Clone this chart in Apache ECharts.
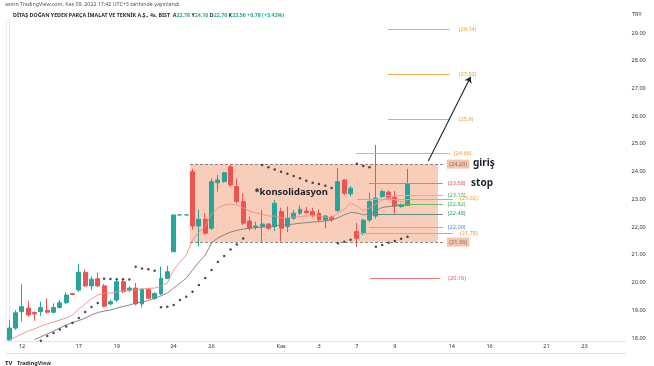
<!DOCTYPE html>
<html><head><meta charset="utf-8">
<script src="https://cdn.jsdelivr.net/npm/echarts@6/dist/echarts.min.js"></script>
<style>html,body{margin:0;padding:0;background:#fff}#c{width:654px;height:366px}</style>
</head><body><div id="c"></div>
<script>
// ---- DATA ----
const dayList = [
  ['11 Eki', 2, ''], ['12 Eki', 3, '12'], ['13 Eki', 3, ''], ['14 Eki', 3, ''],
  ['17 Eki', 3, '17'], ['18 Eki', 3, ''], ['19 Eki', 3, '19'], ['20 Eki', 3, ''], ['21 Eki', 3, ''],
  ['24 Eki', 3, '24'], ['25 Eki', 3, ''], ['26 Eki', 3, '26'], ['27 Eki', 3, ''], ['28 Eki', 2, ''], ['31 Eki', 3, ''],
  ['1 Kas', 3, 'Kas'], ['2 Kas', 3, ''], ['3 Kas', 3, '3'], ['4 Kas', 3, ''], ['7 Kas', 3, '7'], ['8 Kas', 3, ''], ['9 Kas', 3, '9'],
  ['10 Kas', 3, ''], ['11 Kas', 3, ''], ['14 Kas', 3, '14'], ['15 Kas', 3, ''], ['16 Kas', 3, '16'], ['17 Kas', 3, ''], ['18 Kas', 3, ''],
  ['21 Kas', 3, '21'], ['22 Kas', 3, ''], ['23 Kas', 3, '23'], ['24 Kas', 3, ''], ['25 Kas', 1, '']
];
// [open, close, low, high]
const candles = [
  [17.93,18.36,17.90,18.65],[18.36,18.91,18.30,19.00],[18.95,19.13,18.60,19.94],[19.08,18.83,18.77,19.34],
  [18.92,18.87,18.62,18.96],[18.95,19.10,18.80,19.31],[19.00,18.93,18.88,19.43],[18.93,19.10,18.90,19.25],
  [19.10,19.27,19.06,19.37],[19.27,19.55,19.23,19.65],[19.60,19.57,19.54,19.63],[19.73,20.37,19.67,20.67],
  [20.37,19.88,19.84,20.48],[19.88,20.12,19.74,20.22],[20.14,19.88,19.84,20.36],[19.88,19.15,19.10,19.95],
  [19.23,19.31,19.18,19.38],[19.37,20.03,19.30,20.10],[20.03,19.67,19.62,20.12],[19.72,19.80,19.66,19.86],
  [19.80,19.23,19.18,19.98],[19.23,19.76,19.10,19.80],[19.76,19.43,19.40,19.80],[19.43,19.61,19.38,19.65],
  [19.59,20.15,19.55,20.58],[20.15,20.39,20.12,20.60],[21.11,22.44,21.10,22.44],[22.44,22.44,22.44,22.44],
  [22.44,22.44,22.44,22.44],[24.00,22.04,21.90,24.10],[22.04,22.28,21.30,22.64],[22.28,21.78,21.72,22.50],
  [21.96,23.64,21.90,23.76],[23.60,23.70,23.28,23.88],[23.64,23.96,23.60,23.98],[24.18,23.52,23.45,24.25],
  [23.46,22.92,22.86,23.76],[22.92,22.14,22.08,23.22],[22.22,21.96,21.88,22.38],[22.00,22.04,21.90,22.20],
  [22.02,22.11,21.47,22.62],[22.11,21.96,21.90,22.15],[22.02,22.86,21.85,22.98],[22.56,21.96,21.47,22.70],
  [22.02,22.32,21.82,22.74],[22.32,22.50,22.26,22.62],[22.50,22.64,22.44,22.78],[22.58,22.52,22.48,22.72],
  [22.56,22.44,22.36,22.70],[22.50,22.26,22.20,22.64],[22.26,22.40,21.95,22.44],[22.36,22.26,22.20,22.40],
  [22.60,23.64,22.55,24.12],[23.70,23.22,23.15,23.72],[23.20,23.40,23.10,23.48],[21.84,21.60,21.28,22.15],
  [21.80,22.25,21.70,22.30],[22.26,22.92,22.18,23.24],[22.40,23.04,22.30,24.96],[23.10,23.28,23.05,23.35],
  [23.26,23.08,23.02,23.32],[23.08,22.76,22.47,23.30],[22.74,22.78,22.70,22.85],[22.78,23.56,22.76,24.10]
];
const maFast = [17.93,18.04,18.15,18.25,18.33,18.43,18.51,18.58,18.65,18.72,18.83,19.05,19.23,19.41,19.55,19.61,19.62,19.66,19.70,19.73,
  19.73,19.77,19.79,19.80,19.88,19.98,20.45,20.74,20.99,21.54,21.82,22.04,22.47,22.69,22.80,22.83,22.80,22.69,22.58,22.51,
  22.47,22.40,22.40,22.33,22.33,22.36,22.38,22.40,22.42,22.40,22.36,22.33,22.51,22.65,22.87,22.76,22.58,22.69,22.83,22.98,
  23.05,22.98,22.91,22.94];
const maSlow = ['-','-','-','-',17.95,18.04,18.15,18.25,18.36,18.47,18.56,18.63,18.72,18.83,18.92,18.97,19.01,19.08,19.14,19.19,
  19.26,19.30,19.35,19.43,19.52,19.62,19.80,19.98,20.16,20.45,20.74,20.99,21.43,21.61,21.72,21.82,21.88,21.93,21.96,21.98,
  22.00,22.01,22.04,22.08,22.09,22.11,22.14,22.16,22.18,22.20,22.22,22.26,22.33,22.44,22.53,22.51,22.44,22.49,22.58,22.71,
  22.74,22.76,22.78,22.80];
const sar = ['-','-','-','-','-',17.90,18.07,18.18,18.31,18.42,18.54,18.72,18.94,19.12,19.26,20.14,20.13,20.12,20.12,20.11,
  20.57,20.51,20.48,20.43,19.11,19.13,19.19,19.37,19.49,19.67,19.91,20.16,20.45,20.74,20.96,21.19,21.37,21.59,'-','-',
  24.24,24.16,24.08,24.00,23.92,23.84,23.76,23.67,23.60,23.55,23.49,23.41,21.42,21.47,21.54,24.28,24.20,24.16,21.29,21.35,
  21.44,21.50,21.58,21.65];
const lastPrice = 23.56;
const fibLevels = [29.14, 27.52, 25.9, 24.66, 23.58, 23.15, 23.02, 22.82, 22.48, 22.00, 21.78, 20.16];
const fibTexts = ['(29.14)','(27.52)','(25.9)','(24.66)','(23.58)','(23.15)','(23.02)','(22.82)','(22.48)','(22.00)','(21.78)','(20.16)'];
const boxLevels = [24.27, 21.46];
const boxTexts = ['(24.20)', '(21.36)'];
const notes = ['giriş', 'stop', '*konsolidasyon'];
const yTicks = [18,19,20,21,22,23,24,25,26,27,28,29];

// ---- BUILD ----
const categories = [], tickText = [];
dayList.forEach(d => { for (let k = 0; k < d[1]; k++) { categories.push(d[0] + ' #' + (k + 1)); tickText.push(k === 0 ? d[2] : ''); } });

const FONT = 'Noto Sans';
const fibStyle = [
  {x1:59.9, x2:69.7, c:'#f6a94a', lc:'#f29a2e', d:9},
  {x1:59.9, x2:69.7, c:'#f6a94a', lc:'#f29a2e', d:9},
  {x1:59.9, x2:69.7, c:'#f6a94a', lc:'#f29a2e', d:9},
  {x1:54.9, x2:69.7, c:'#d8bd6a', lc:'#f29a2e', d:4},
  {x1:56.9, x2:68.6, c:'#ef7373', lc:'#e8505b', d:5},
  {x1:59.4, x2:68.6, c:'#8fcfae', lc:'#43a86a', d:5},
  {x1:55.0, x2:70.2, c:'#f5a53a', lc:'#f29a2e', d:7},
  {x1:61.0, x2:68.6, c:'#66bb6a', lc:'#3f9f4f', d:5},
  {x1:56.9, x2:68.6, c:'#5f8f8a', lc:'#1f9a8a', d:5},
  {x1:56.9, x2:68.6, c:'#8fb3ef', lc:'#4f86e8', d:5},
  {x1:55.0, x2:70.2, c:'#f5a53a', lc:'#f29a2e', d:7},
  {x1:57.1, x2:68.2, c:'#ef7373', lc:'#e8505b', d:8}
];
const lineMarks = fibLevels.map((v, i) => {
  const s = fibStyle[i];
  return [{coord:[s.x1, v], lineStyle:{color:s.c, width:1, type:'solid'},
           label:{show:true, position:'end', distance:s.d, formatter:fibTexts[i], color:s.lc, fontSize:5.6, fontFamily:FONT}},
          {coord:[s.x2, v]}];
});
boxLevels.forEach((v, i) => {
  lineMarks.push([{coord:[28.6, v], lineStyle:{color:'#6b6b6b', width:0.8, type:[3,2]},
    label:{show:true, position:'end', distance:2, formatter:boxTexts[i], color:'#8a6a60', fontSize:5.6, fontFamily:FONT,
           backgroundColor:'#f6c4ad', padding:[1.5,2.5]}},
    {coord:[68.9, v]}]);
});
lineMarks.push([{coord:[66.3, 24.38], symbol:'none', lineStyle:{color:'#1e222d', width:1.1, type:'solid'}, label:{show:false}},
                {coord:[73.0, 27.42], symbol:'arrow', symbolSize:6}]);

const notePos = [[75.1, 24.31], [74.8, 23.57], [44.6, 23.25]];
const noteMarks = notes.map((t, i) => ({coord:notePos[i], symbol:'circle', symbolSize:0,
  label:{show:true, position:'inside', formatter:t, color:'#1e222d', fontSize:i === 2 ? 9.5 : 10, fontWeight:'bold', fontFamily:FONT}}));

const grey = '#e0e3eb';
const option = {
  animation: false,
  backgroundColor: '#ffffff',
  textStyle: {fontFamily: FONT},
  title: [
    {text:'asmn TradingView.com, Kas 09, 2022 17:42 UTC+3 tarihinde yayınlandı', left:5, top:2, padding:0,
     textStyle:{fontSize:5.3, color:'#555', fontWeight:'normal', fontFamily:FONT}},
    {text:'{n|DİTAŞ DOĞAN YEDEK PARÇA İMALAT VE TEKNİK A.Ş., 4s, BIST}  {k|A}{v|22.78} {k|Y}{v|24.10} {k|D}{v|22.76} {k|K}{v|23.56} {v|+0.78 (+3.42%)}',
     left:13, top:12.5, padding:0,
     textStyle:{fontSize:5.3, rich:{n:{fontSize:5.3, color:'#2a2e39', fontFamily:FONT}, k:{fontSize:5.3, color:'#2a2e39', fontFamily:FONT}, v:{fontSize:5.3, color:'#26a69a', fontFamily:FONT}}}},
    {text:'TRY', left:632, top:11, padding:0,
     textStyle:{fontSize:5.6, color:'#333', fontWeight:'normal', fontFamily:FONT}},
    {text:'{t|TV} {s|TradingView}', left:5, top:354, padding:0,
     textStyle:{rich:{t:{fontSize:6, fontWeight:'bold', color:'#131722', fontFamily:FONT}, s:{fontSize:5.5, color:'#333', fontFamily:FONT}}}}
  ],
  grid: {left:6.14, right:28.5, top:19.1, bottom:25.2, containLabel:false},
  xAxis: [
    {type:'category', data:categories, boundaryGap:true,
     axisLine:{show:true, lineStyle:{color:grey, width:1}}, axisTick:{show:false}, splitLine:{show:false},
     axisLabel:{fontSize:5.6, color:'#333', margin:3, fontFamily:FONT,
       interval:(idx) => tickText[idx] !== '', formatter:(val, idx) => tickText[idx]}},
    {type:'value', min:-0.5, max:97.5, position:'bottom', offset:12,
     axisLine:{show:true, lineStyle:{color:grey, width:1}}, axisTick:{show:false}, axisLabel:{show:false}, splitLine:{show:false}}
  ],
  yAxis: [
    {type:'value', position:'right', min:17.9, max:29.5, interval:0.1,
     axisLine:{show:true, lineStyle:{color:grey, width:1}}, axisTick:{show:false}, splitLine:{show:false},
     axisLabel:{fontSize:5.6, color:'#333', margin:6, fontFamily:FONT,
       formatter:(v) => { const r = Math.round(v); return (Math.abs(v - r) < 1e-6 && yTicks.indexOf(r) >= 0) ? r.toFixed(2) : ''; }}},
    {type:'value', position:'left', min:17.9, max:29.5, interval:0.1,
     axisLine:{show:true, lineStyle:{color:'#eceef2', width:1}}, axisTick:{show:false}, axisLabel:{show:false}, splitLine:{show:false}}
  ],
  series: [
    {type:'line', name:'box', xAxisIndex:1, yAxisIndex:0, data:[], z:1, silent:true,
     markArea:{silent:true, itemStyle:{color:'#f8cdb9', opacity:1},
       data:[[{coord:[28.6, boxLevels[1]]}, {coord:[67.83, boxLevels[0]]}]]}},
    {type:'candlestick', name:'DITAS', xAxisIndex:0, yAxisIndex:0, data:candles, z:3, barWidth:4.4, clip:false,
     itemStyle:{color:'#26a69a', color0:'#ef5350', borderColor:'#26a69a', borderColor0:'#ef5350', borderWidth:1},
     markLine:{silent:true, symbol:['none','none'], animation:false,
       lineStyle:{opacity:0},
       label:{show:true, position:'end', distance:1, formatter:lastPrice.toFixed(2), color:'#fff', backgroundColor:'#26a69a',
              fontSize:5.6, padding:[1.5,4,1.5,3], fontFamily:FONT},
       data:[{yAxis:lastPrice}]}},
    {type:'line', name:'maFast', xAxisIndex:0, yAxisIndex:0, data:maFast, symbol:'none', z:4,
     lineStyle:{color:'#f28b8b', width:0.9}},
    {type:'line', name:'maSlow', xAxisIndex:0, yAxisIndex:0, data:maSlow, symbol:'none', z:4,
     lineStyle:{color:'#857878', width:0.9}},
    {type:'scatter', name:'sar', xAxisIndex:0, yAxisIndex:0, data:sar, symbol:'circle', symbolSize:2.5, z:5,
     itemStyle:{color:'#1e222d'}},
    {type:'line', name:'draw', xAxisIndex:1, yAxisIndex:0, data:[], z:6, silent:true,
     markLine:{silent:true, symbol:['none','none'], animation:false, data:lineMarks},
     markPoint:{silent:true, animation:false, data:noteMarks}}
  ]
};
const chart = echarts.init(document.getElementById('c'), null, {renderer:'canvas'});
chart.setOption(option);
</script></body></html>
